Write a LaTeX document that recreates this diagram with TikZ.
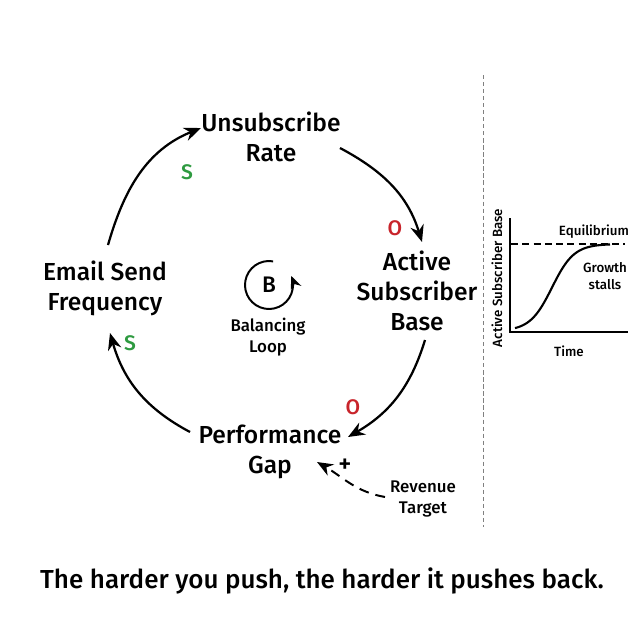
\documentclass[tikz,border=0pt]{standalone}
\usepackage{fontspec}
\setmainfont{Fira Sans}[UprightFont=* Medium]
\usepackage{xcolor}
\usetikzlibrary{positioning, arrows.meta, calc}

\definecolor{sgreen}{HTML}{2E9A40}
\definecolor{ored}{HTML}{C8242B}

\begin{document}
\begin{tikzpicture}[
  x=0.025cm, y=-0.025cm,
  var/.style={align=center, font=\fontsize{17.5}{21.5}\selectfont, inner sep=2pt},
  small/.style={align=center, font=\fontsize{12}{15}\selectfont, inner sep=1pt},
  tiny/.style={align=center, font=\fontsize{9.5}{11.5}\selectfont, inner sep=1pt},
  pol/.style={font=\fontsize{15}{18}\selectfont, inner sep=0pt},
  arrow/.style={-{Stealth[length=4.2mm, width=3.4mm]}, line width=1.6pt},
  dasharrow/.style={line width=1.4pt, dash pattern=on 7pt off 5pt,
                    -{Stealth[length=4mm, width=3.2mm]}},
]
\useasboundingbox (0,0) rectangle (640,640);

% variables of the loop
\node[var] at (271, 137) (unsub) {Unsubscribe\\Rate};
\node[var] at (417, 291) (base)  {Active\\Subscriber\\Base};
\node[var] at (270, 452) (gap)   {Performance\\Gap};
\node[var] at (105, 288) (email) {Email Send\\Frequency};
\node[small] at (423, 499) (target) {Revenue\\Target};

% links
\draw[arrow] ($(unsub)+(69,11)$) to[out=-28, in=107] ($(base)+(5,-49)$);
\draw[arrow] ($(base)+(8,49)$) to[out=-107, in=30] ($(gap)+(78,-15)$);
\draw[arrow] ($(gap)+(-80,-20)$) to[out=152, in=-74] ($(email)+(5,45)$);
\draw[arrow] ($(email)+(3,-43)$) to[out=74, in=-158] ($(unsub)+(-70,-9)$);
\draw[dasharrow] ($(target)+(-38,-2)$) to[out=170, in=-30] ($(gap)+(47,10)$);

% polarities
\node[pol, text=sgreen] at (187, 172) (s1) {S};
\node[pol, text=sgreen] at (130, 343) (s2) {S};
\node[pol, text=ored]   at (395, 228) (o1) {O};
\node[pol, text=ored]   at (353, 407) (o2) {O};
\node[pol, font=\fontsize{18}{20}\selectfont] at (345, 466) (plus) {+};

% loop marker
\node[font=\fontsize{16}{18}\selectfont] at (269, 285) (bl) {B};
\draw[line width=1.4pt, -{Stealth[length=3.2mm, width=2.8mm]}]
  ($(bl)+(-80:24)$) arc[start angle=-80, end angle=-382, radius=24];
\node[small] at (268, 337) (bltext) {Balancing\\Loop};

% separator
\draw[dashed, gray, line width=0.6pt, dash pattern=on 3pt off 2pt] (483, 75) -- (483, 527);

% behaviour over time
\coordinate (orig) at (510, 332);
\draw[line width=1.5pt] (510, 218) -- (orig) -- (628, 332);
\draw[line width=1.2pt, dash pattern=on 5pt off 3pt] (511, 244) -- (625, 244);
\draw[line width=1.5pt] plot[domain=515:610, samples=60, smooth]
  (\x, {331 - 87/(1+exp(-(\x-552)/11))});
\node[tiny] at (594, 232) (eq) {Equilibrium};
\node[tiny] at (605, 276) (stall) {Growth\\stalls};
\node[tiny] at (569, 351) (time) {Time};
\node[tiny, rotate=90] at (497, 278) (ylab) {Active Subscriber Base};

% caption
\node[font=\fontsize{18.5}{22}\selectfont] at (322, 581) (caption)
  {The harder you push, the harder it pushes back.};
\end{tikzpicture}
\end{document}
